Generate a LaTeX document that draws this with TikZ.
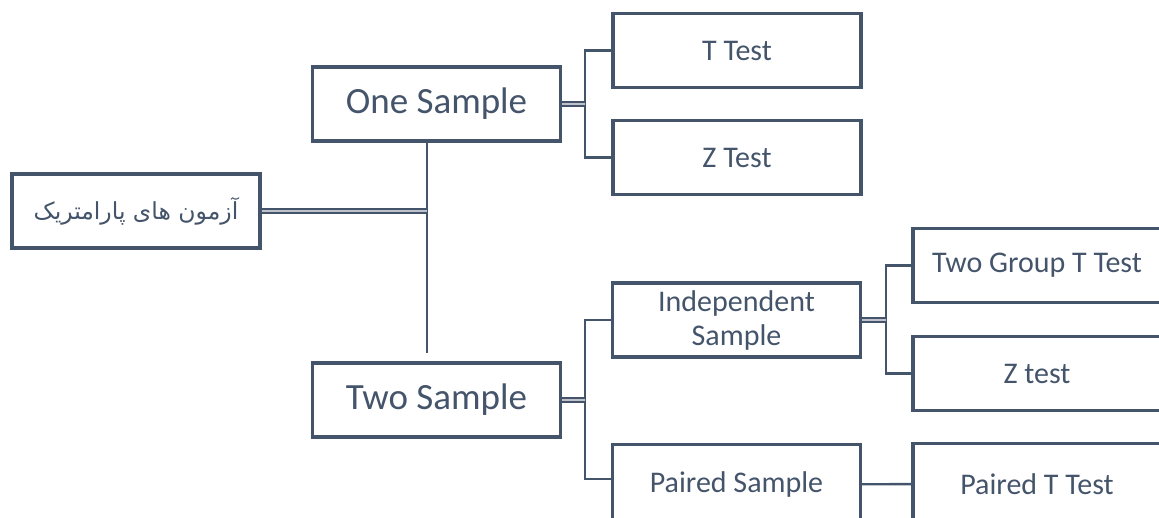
\documentclass[tikz,border=0pt]{standalone}
\usepackage{fontspec}
\setmainfont{Carlito}
\newfontfamily\arabicfont[Script=Arabic]{DejaVu Sans}
\TeXXeTstate=1
\definecolor{slate}{HTML}{44546A}
\tikzset{
  box/.style={draw=slate, line width=3.4pt, text=slate, inner sep=0pt,
    minimum width=248pt, minimum height=74pt, align=center,
    font=\fontsize{30}{34}\selectfont},
  bigbox/.style={box, font=\fontsize{37}{44}\selectfont},
  link/.style={draw=slate, line width=2.4pt},
  dbl/.style={draw=slate, line width=2pt, double=slate!35, double distance=1.6pt},
}

\begin{document}
\begin{tikzpicture}[x=1pt,y=-1pt]
	\clip (0,0) rectangle (1159,517);

	% first level
	\node[box, font=\arabicfont\fontsize{23.5}{30}\selectfont] (root) at (136,211) {\beginR آزمون های پارامتریک\endR};
	\node[bigbox] (one) at (436.5,104) {One Sample};
	\node[bigbox] (two) at (436.5,400) {Two Sample};

	% one sample
	\node[box] (ttest) at (737,50.5) {T Test};
	\node[box] (ztest) at (737,157.5) {Z Test};

	% two sample
	\node[box] (indep) at (736.5,320) {Independent\\Sample};
	\node[box, minimum height=80pt, anchor=north] (paired) at (736.5,443) {Paired Sample};
	\node[box] (twogroup) at (1037,265.5) {Two Group T Test};
	\node[box] (ztest2) at (1037,373.5) {Z test};
	\node[box, minimum height=80pt, anchor=north] (pairedt) at (1037,442) {Paired T Test};

	% trunk and brackets
	\coordinate (trunk) at (427,353);
	\coordinate (b1) at (585,104);
	\coordinate (b2) at (585,400);
	\coordinate (b3) at (886,320);

	\draw[link] (one.south -| trunk) -- (trunk);
	\draw[dbl] (root.east) -- (root.east -| trunk);

	\draw[link] (ttest.west) -| (b1) |- (ztest.west);
	\draw[dbl] (one.east) -- (b1);

	\draw[link] (indep.west) -| (b2) |- ([yshift=6pt]paired.west);
	\draw[dbl] (two.east) -- (b2);

	\draw[link] (twogroup.west) -| (b3) |- (ztest2.west);
	\draw[dbl] (indep.east) -- (b3);

	\draw[link] (paired) -- (pairedt);
\end{tikzpicture}
\end{document}
